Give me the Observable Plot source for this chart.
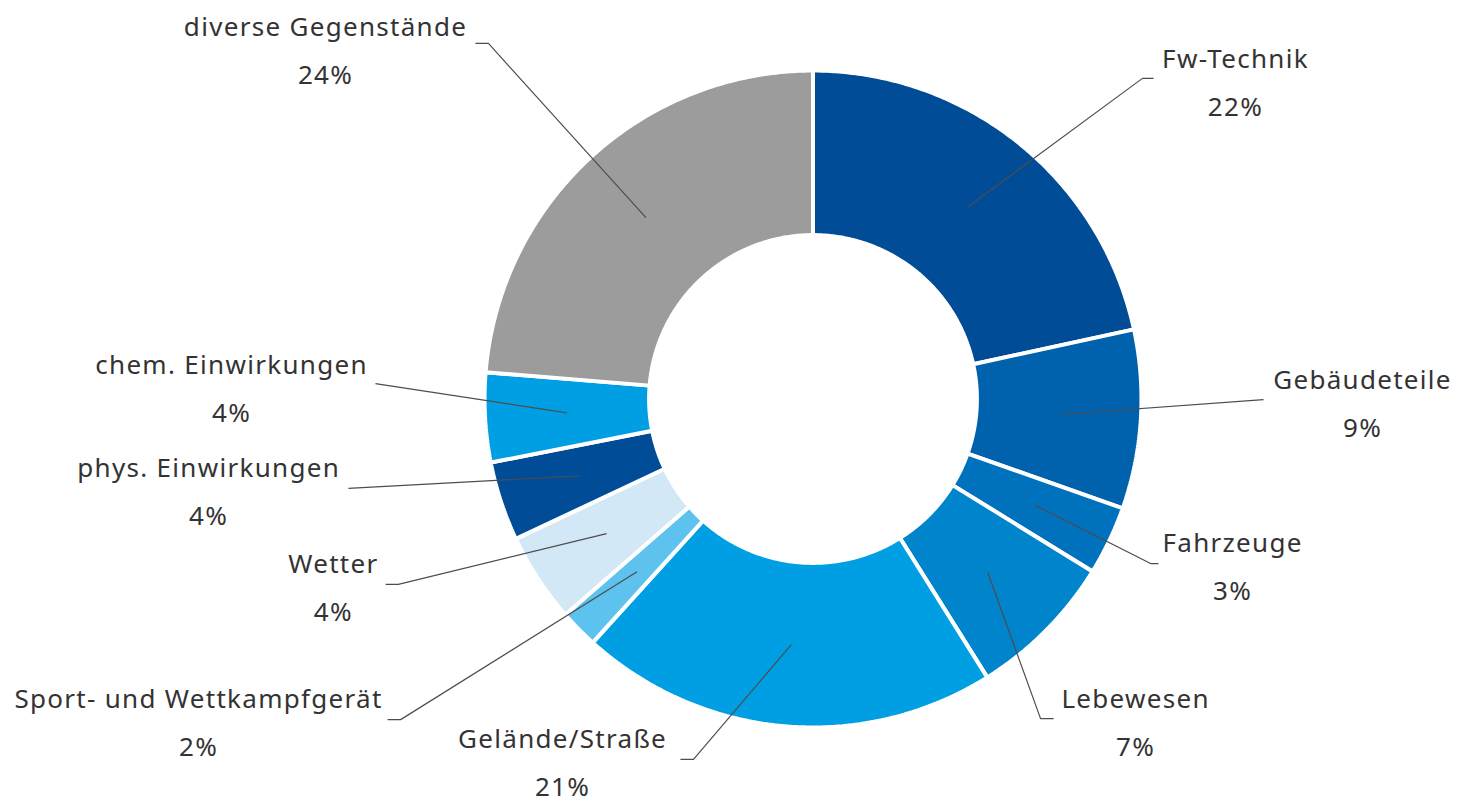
<!DOCTYPE html>
<html>
<head>
<meta charset="utf-8">
<script src="https://cdn.jsdelivr.net/npm/d3@7"></script>
<script src="https://cdn.jsdelivr.net/npm/@observablehq/plot@0.6"></script>
<style>
  html, body { margin: 0; padding: 0; background: #ffffff; }
  #chart svg { display: block; }
</style>
</head>
<body>
<div id="chart"></div>
<script>
// ---- data (shares in %; labels are rounded) ----
const categories = [
  "Fw-Technik", "Gebäudeteile", "Fahrzeuge", "Lebewesen", "Gelände/Straße",
  "Sport- und Wettkampfgerät", "Wetter", "phys. Einwirkungen", "chem. Einwirkungen", "diverse Gegenstände"
];
const values = [21.6, 8.8, 3.4, 7.3, 20.6, 1.9, 4.4, 3.9, 4.4, 23.7];
const colors = [
  "#004c97", "#0062ad", "#0071bc", "#0084cc", "#009fe3",
  "#5ec2ef", "#d2e8f7", "#004c97", "#009fe3", "#9c9c9c"
];
const percentLabels = values.map(v => Math.round(v) + "%");

// ---- layout (units of the outer radius, origin at the donut centre) ----
const W = 1459, H = 805;
const S = 326.5;              // px per unit (outer radius)
const CX = 812.5, CY = 398.5; // donut centre in px
const outerR = 1.006, innerR = 0.502, leaderR = 0.755;
// label text anchor (centre x, baseline y), leader elbow, leader stub end
const labelPos = [
  [1.294, 1.015], [1.683, 0.032], [1.285, -0.470], [0.988, -0.945], [-0.767, -1.070],
  [-1.882, -0.945], [-1.469, -0.534], [-1.851, -0.240], [-1.781, 0.078], [-1.493, 1.113]
];
const labelElbow = [
  [1.009, 0.982], [1.380, -0.002], [1.034, -0.504], [0.697, -0.979], [-0.366, -1.104],
  [-1.263, -0.982], [-1.270, -0.568], [-1.423, -0.274], [-1.340, 0.047], [-0.994, 1.089]
];
const labelStub = [
  [1.043, 0.982], [1.380, -0.002], [1.058, -0.504], [0.737, -0.979], [-0.406, -1.104],
  [-1.303, -0.982], [-1.309, -0.568], [-1.423, -0.274], [-1.340, 0.047], [-1.034, 1.089]
];

// ---- geometry derived from the values ----
const total = d3.sum(values);
let acc = 0;
const slices = categories.map((name, i) => {
  const a0 = acc / total * 2 * Math.PI;
  acc += values[i];
  const a1 = acc / total * 2 * Math.PI;
  return {name, a0, a1, mid: (a0 + a1) / 2, i};
});
const polar = (r, a) => ({x: r * Math.sin(a), y: r * Math.cos(a)});

const slicePoints = [];
for (const s of slices) {
  const n = Math.max(2, Math.ceil((s.a1 - s.a0) / (Math.PI / 360)));
  for (let k = 0; k <= n; k++) {
    const a = s.a0 + (s.a1 - s.a0) * k / n;
    slicePoints.push({name: s.name, ...polar(outerR, a)});
  }
  for (let k = n; k >= 0; k--) {
    const a = s.a0 + (s.a1 - s.a0) * k / n;
    slicePoints.push({name: s.name, ...polar(innerR, a)});
  }
}

const leaderPoints = [];
for (const s of slices) {
  leaderPoints.push({name: s.name, ...polar(leaderR, s.mid)});
  leaderPoints.push({name: s.name, x: labelElbow[s.i][0], y: labelElbow[s.i][1]});
  leaderPoints.push({name: s.name, x: labelStub[s.i][0], y: labelStub[s.i][1]});
}

const labels = slices.map(s => ({
  name: s.name,
  pct: percentLabels[s.i],
  x: labelPos[s.i][0],
  y: labelPos[s.i][1]
}));

const textStyle = {
  fontFamily: "'Noto Sans', 'Open Sans', sans-serif",
  fontSize: 26,
  fill: "#333333",
  textAnchor: "middle",
  lineAnchor: "bottom"
};

const chart = Plot.plot({
  width: W,
  height: H,
  margin: 0,
  axis: null,
  style: {background: "#ffffff", letterSpacing: "1.3px"},
  x: {domain: [-CX / S, (W - CX) / S]},
  y: {domain: [(CY - H) / S, CY / S]},
  color: {domain: categories, range: colors},
  marks: [
    Plot.line(slicePoints, {
      x: "x", y: "y", z: "name", fill: "name",
      stroke: "#ffffff", strokeWidth: 4, strokeLinejoin: "miter",
      curve: "linear-closed"
    }),
    Plot.line(leaderPoints, {
      x: "x", y: "y", z: "name",
      stroke: "#4d4d4d", strokeWidth: 1.2, strokeLinejoin: "miter", strokeLinecap: "butt"
    }),
    Plot.text(labels, {x: "x", y: "y", text: "name", ...textStyle}),
    Plot.text(labels, {x: "x", y: "y", text: "pct", dy: 48, ...textStyle})
  ]
});

document.getElementById("chart").appendChild(chart);
</script>
</body>
</html>
